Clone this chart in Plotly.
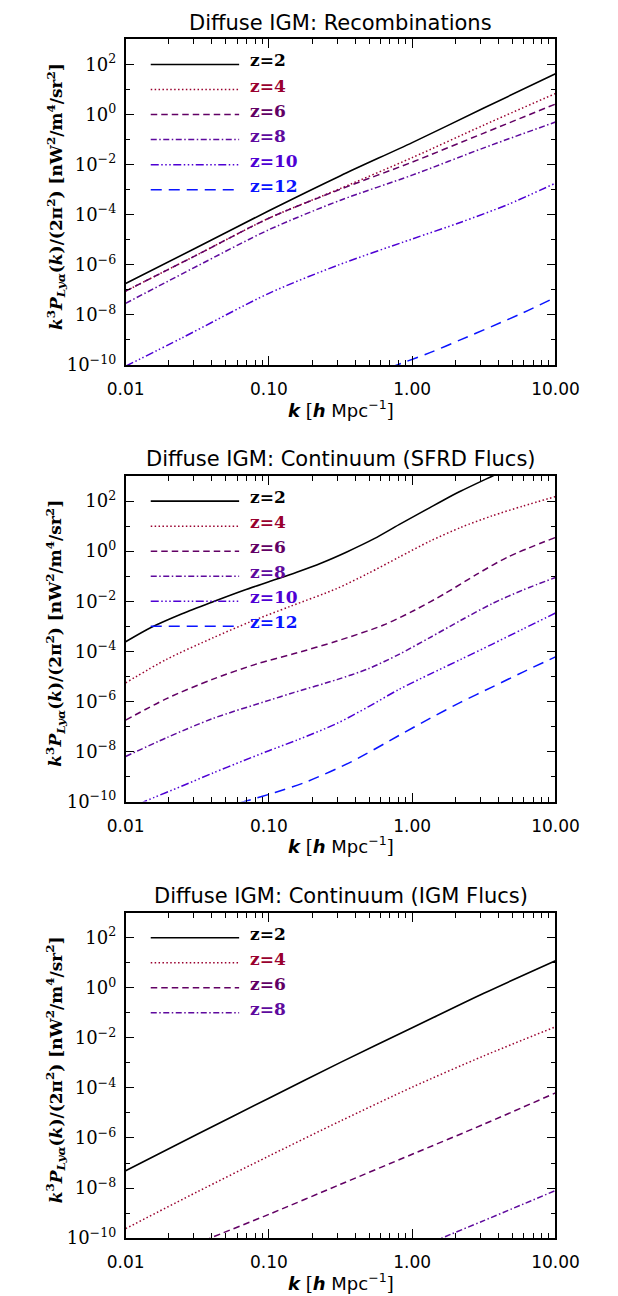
import plotly.graph_objects as go

W, H = 618, 1296

# ---------------- data (log10 k [h/Mpc], log10 k^3 P/(2pi^2)) ----------------
# Panel 1: Diffuse IGM: Recombinations
rec_z2_logk = [-2, -1.5, -1, -0.5, 0, 0.5, 1]
rec_z2_logp = [-6.75, -5.3, -3.84, -2.44, -1.12, 0.26, 1.63]
rec_z4_logk = [-2, -1.5, -1, -0.5, 0, 0.5, 1]
rec_z4_logp = [-7.05, -5.6, -4.14, -2.95, -1.72, -0.42, 0.84]
rec_z6_logk = [-2, -1.5, -1, -0.5, 0, 0.5, 1]
rec_z6_logp = [-7.05, -5.6, -4.14, -2.98, -1.9, -0.74, 0.42]
rec_z8_logk = [-2, -1.5, -1, -0.5, 0, 0.5, 1]
rec_z8_logp = [-7.54, -6.05, -4.6, -3.42, -2.42, -1.33, -0.3]
rec_z10_logk = [-2, -1.606, -1, -0.525, 0, 0.34, 0.665, 1]
rec_z10_logp = [-10.05, -8.92, -7.14, -6.03, -4.97, -4.3, -3.6, -2.74]
rec_z12_logk = [-0.15, -0.092, 0.124, 0.34, 0.557, 0.773, 1]
rec_z12_logp = [-10.1, -9.97, -9.51, -8.99, -8.46, -7.92, -7.30]

# Panel 2: Diffuse IGM: Continuum (SFRD Flucs)
sfrd_z2_logk = [-2, -1.823, -1.606, -1.39, -1.174, -1.0, -0.806, -0.633, -0.46, -0.265, -0.092, 0.124, 0.34, 0.578, 0.65]
sfrd_z2_logp = [-3.62, -3.05, -2.5, -2.02, -1.56, -1.22, -0.84, -0.47, -0.04, 0.5, 1.06, 1.74, 2.4, 3.05, 3.25]
sfrd_z4_logk = [-2, -1.714, -1.39, -1.13, -0.849, -0.525, -0.308, -0.092, 0.124, 0.34, 0.557, 0.773, 1.0]
sfrd_z4_logp = [-5.26, -4.32, -3.46, -2.82, -2.2, -1.49, -0.89, -0.24, 0.4, 0.95, 1.41, 1.8, 2.18]
sfrd_z6_logk = [-2, -1.714, -1.39, -1.066, -0.828, -0.525, -0.2, 0.016, 0.232, 0.449, 0.665, 1.0]
sfrd_z6_logp = [-6.75, -5.89, -5.11, -4.47, -4.1, -3.59, -2.95, -2.36, -1.68, -0.93, -0.24, 0.55]
sfrd_z8_logk = [-2, -1.714, -1.39, -1.0, -0.828, -0.525, -0.308, -0.092, 0.124, 0.34, 0.557, 0.773, 1.0]
sfrd_z8_logp = [-8.2, -7.45, -6.68, -5.96, -5.65, -5.13, -4.7, -4.12, -3.45, -2.76, -2.1, -1.55, -1.05]
sfrd_z10_logk = [-1.9, -1.855, -1.606, -1.39, -1.174, -1.0, -0.806, -0.525, -0.308, -0.092, 0.124, 0.34, 0.557, 0.773, 1.0]
sfrd_z10_logp = [-10.1, -9.97, -9.38, -8.86, -8.36, -7.97, -7.55, -6.88, -6.22, -5.52, -4.91, -4.32, -3.72, -3.11, -2.47]
sfrd_z12_logk = [-1.2, -1.152, -0.957, -0.741, -0.417, -0.092, 0.124, 0.34, 0.557, 0.773, 1.0]
sfrd_z12_logp = [-10.05, -9.97, -9.64, -9.22, -8.39, -7.36, -6.68, -6.03, -5.43, -4.83, -4.22]

# Panel 3: Diffuse IGM: Continuum (IGM Flucs)
igm_z2_logk = [-2, -1.5, -1, -0.5, 0, 0.5, 1]
igm_z2_logp = [-7.31, -5.85, -4.41, -2.98, -1.6, -0.22, 1.08]
igm_z4_logk = [-2, -1.5, -1, -0.5, 0, 0.5, 1]
igm_z4_logp = [-9.62, -8.15, -6.72, -5.32, -3.97, -2.72, -1.56]
igm_z6_logk = [-1.45, -1.41, -1, -0.5, 0, 0.5, 1]
igm_z6_logp = [-10.1, -10.0, -9.05, -7.85, -6.65, -5.45, -4.2]
igm_z8_logk = [0.15, 0.206, 0.5, 1]
igm_z8_logp = [-10.15, -10.0, -9.3, -8.1]

titles = ["Diffuse IGM: Recombinations",
          "Diffuse IGM: Continuum (SFRD Flucs)",
          "Diffuse IGM: Continuum (IGM Flucs)"]
redshift_labels = ["z=2", "z=4", "z=6", "z=8", "z=10", "z=12"]
x_tick_vals = [0.01, 0.1, 1, 10]
x_tick_text = ["0.01", "0.10", "1.00", "10.00"]
y_tick_exps = [-10, -8, -6, -4, -2, 0, 2]

# ---------------- styles ----------------
colors = ["#000000", "#99002E", "#620064", "#5E0A9E", "#4E00D4", "#0A14FF"]
dashes = ["solid", "1.5px,2.4px", "6.5px,4px", "6px,2.5px,1.5px,2.5px",
          "8px,2.5px,1.5px,2.5px,1.5px,2.5px,1.5px,2.5px", "11px,7px"]

panels = [
    [(rec_z2_logk, rec_z2_logp), (rec_z4_logk, rec_z4_logp), (rec_z6_logk, rec_z6_logp),
     (rec_z8_logk, rec_z8_logp), (rec_z10_logk, rec_z10_logp), (rec_z12_logk, rec_z12_logp)],
    [(sfrd_z2_logk, sfrd_z2_logp), (sfrd_z4_logk, sfrd_z4_logp), (sfrd_z6_logk, sfrd_z6_logp),
     (sfrd_z8_logk, sfrd_z8_logp), (sfrd_z10_logk, sfrd_z10_logp), (sfrd_z12_logk, sfrd_z12_logp)],
    [(igm_z2_logk, igm_z2_logp), (igm_z4_logk, igm_z4_logp), (igm_z6_logk, igm_z6_logp),
     (igm_z8_logk, igm_z8_logp)],
]

# plot-area geometry in page pixels
X0, X1 = 106, 568
panel_tops = [31.7, 471.7, 911.7]
PH = 328.0


def pxx(p):
    return p / W


def pxy(p):
    return 1 - p / H


fig = go.Figure()

for i, series in enumerate(panels):
    ax = "" if i == 0 else str(i + 1)
    for j, (lk, lp) in enumerate(series):
        fig.add_trace(go.Scatter(
            x=[10 ** v for v in lk], y=[10 ** v for v in lp],
            mode="lines", xaxis="x" + ax, yaxis="y" + ax,
            line=dict(color=colors[j], dash=dashes[j], width=1.6 if j == 0 else 1.5,
                      shape="spline", smoothing=0.8),
            showlegend=False, hoverinfo="skip"))

x_minor = [m * d for d in (0.01, 0.1, 1) for m in range(2, 10)]
y_minor = [10.0 ** e for e in range(-9, 3, 2)]
y_tick_vals = [10.0 ** e for e in y_tick_exps]
y_tick_text = ["10<sup>%s</sup>" % (str(e).replace("-", "\u2212")) for e in y_tick_exps]

layout = dict(width=W, height=H, margin=dict(l=0, r=0, t=0, b=0),
              paper_bgcolor="white", plot_bgcolor="white", showlegend=False)

annotations = []
shapes = []
for i in range(3):
    ax = "" if i == 0 else str(i + 1)
    top = panel_tops[i]
    bot = top + PH
    xd = [pxx(X0), pxx(X1)]
    yd = [pxy(bot), pxy(top)]
    common = dict(showline=True, linecolor="black", linewidth=1.7, mirror="allticks",
                  ticks="inside", tickcolor="black", tickwidth=1.3, showgrid=False,
                  zeroline=False)
    layout["xaxis" + ax] = dict(
        type="log", range=[-2, 1], domain=xd, anchor="y" + ax,
        tickvals=x_tick_vals, ticktext=x_tick_text, ticklen=9,
        tickfont=dict(family="DejaVu Sans", size=17, color="black"),
        ticklabelstandoff=8,
        minor=dict(tickvals=x_minor, ticks="inside", ticklen=5, tickcolor="black", tickwidth=1.2),
        **common)
    layout["yaxis" + ax] = dict(
        type="log", range=[-10, 3], domain=yd, anchor="x" + ax,
        tickvals=y_tick_vals, ticktext=y_tick_text, ticklen=9,
        tickfont=dict(family="DejaVu Serif", size=18, color="black"),
        ticklabelstandoff=4,
        minor=dict(tickvals=y_minor, ticks="inside", ticklen=5, tickcolor="black", tickwidth=1.2),
        **common)

    # panel title
    annotations.append(dict(text=titles[i], xref="paper", yref="paper",
                            x=pxx((X0 + X1) / 2), y=pxy(top - 17), xanchor="center", yanchor="middle",
                            showarrow=False, font=dict(family="DejaVu Sans", size=21, color="black")))
    # x-axis title
    annotations.append(dict(
        text="<b><i>k</i></b> <span style='font-family:DejaVu Serif'>[</span><b><i>h</i></b> Mpc<sup>\u22121</sup><span style='font-family:DejaVu Serif'>]</span>",
        xref="paper", yref="paper", x=pxx((X0 + X1) / 2), y=pxy(bot + 44),
        xanchor="center", yanchor="middle", showarrow=False,
        font=dict(family="DejaVu Sans", size=18, color="black")))
    # y-axis title
    annotations.append(dict(
        text="<b><i>k</i><sup>3</sup><i>P</i><sub><i>Ly\u03b1</i></sub>(<i>k</i>)/(2\u03c0<sup>2</sup>) [nW<sup>2</sup>/m<sup>4</sup>/sr<sup>2</sup>]</b>",
        xref="paper", yref="paper", x=pxx(31), y=pxy(top + 158),
        xanchor="center", yanchor="middle", textangle=-90, showarrow=False,
        font=dict(family="DejaVu Serif", size=17, color="black")))

    # legend (line samples at decade levels 10^2 ... 10^-3)
    n = len(panels[i])
    for j in range(n):
        yl = (2 - j + 10) / 13.0
        shapes.append(dict(type="line", xref="x" + ax + " domain", yref="y" + ax + " domain",
                           x0=(133 - X0) / (X1 - X0), x1=(228 - X0) / (X1 - X0), y0=yl, y1=yl,
                           line=dict(color=colors[j], width=1.6 if j == 0 else 1.5, dash=dashes[j])))
        annotations.append(dict(text="<b>" + redshift_labels[j] + "</b>",
                                xref="x" + ax + " domain", yref="y" + ax + " domain",
                                x=(237 - X0) / (X1 - X0), y=yl, xanchor="left", yanchor="middle",
                                yshift=4, showarrow=False,
                                font=dict(family="DejaVu Serif", size=17, color=colors[j])))

layout["annotations"] = annotations
layout["shapes"] = shapes
fig.update_layout(**layout)
fig.write_html("out.html")
